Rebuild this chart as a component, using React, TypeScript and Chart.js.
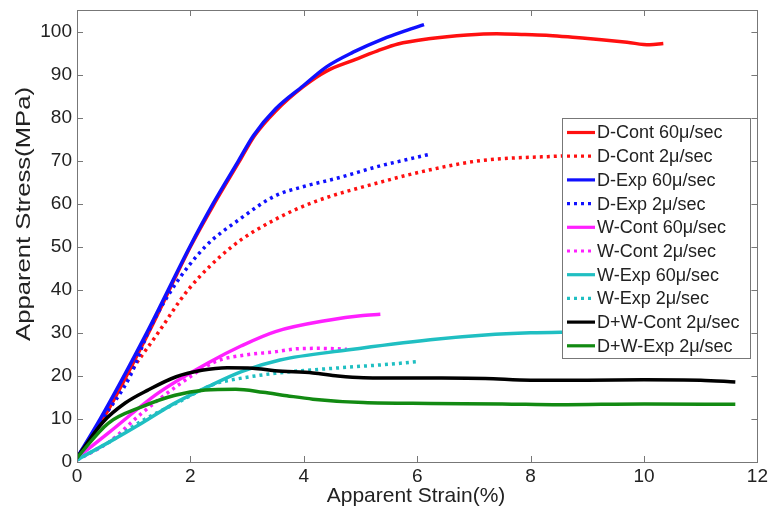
import React, { useEffect, useRef } from "react";
import { Chart, registerables } from "chart.js";

Chart.register(...registerables);

// ---- tick values ----
const xTickValues = [0, 2, 4, 6, 8, 10, 12];
const yTickValues = [0, 10, 20, 30, 40, 50, 60, 70, 80, 90, 100];

// ---- series (strain %, stress MPa) ----
const dContFastX = [0, 0.46, 1.26, 2.0, 2.42, 2.87, 3.13, 3.5, 3.99, 4.4, 4.87, 5.3, 5.66, 6.2, 6.88, 7.4, 7.9, 8.33, 8.8, 9.25, 9.7, 10.1, 10.34];
const dContFastY = [1, 10, 30, 50, 60, 70, 75.8, 81.5, 87.2, 90.8, 93.3, 95.5, 97.1, 98.3, 99.2, 99.5, 99.3, 99.1, 98.6, 98.1, 97.5, 96.9, 97.2];

const dContSlowX = [0, 0.45, 0.9, 1.43, 1.96, 2.73, 3.49, 4.2, 5.35, 6.2, 7.11, 8.55, 9.5];
const dContSlowY = [1, 10, 20, 30, 40, 50, 56.3, 60.5, 65, 67.8, 70, 71.1, 71.8];

const dExpFastX = [0, 0.41, 1.23, 1.99, 2.4, 2.85, 3.11, 3.5, 3.99, 4.4, 4.87, 5.4, 5.8, 6.12];
const dExpFastY = [1, 10, 30, 50, 60, 70, 75.8, 82, 87.4, 91.8, 95.2, 98.3, 100.2, 101.6];

const dExpSlowX = [0, 0.45, 0.94, 1.25, 1.67, 2.26, 2.88, 3.49, 4.0, 4.58, 5.35, 5.8, 6.19];
const dExpSlowY = [1, 10, 20, 30, 40, 50, 56.5, 61.8, 64, 65.9, 68.8, 70.2, 71.4];

const wContFastX = [0, 0.55, 1.43, 2.31, 2.9, 3.5, 4.46, 5.0, 5.35];
const wContFastY = [1, 6.7, 16, 23, 27, 30.3, 33, 34, 34.3];

const wContSlowX = [0, 0.55, 1.14, 1.8, 2.44, 2.99, 3.49, 3.88, 4.3, 4.76];
const wContSlowY = [0.5, 4.5, 11.3, 18, 23.3, 24.9, 25.6, 26.3, 26.4, 26.2];

const wExpFastX = [0, 0.55, 1.14, 1.7, 2.31, 2.9, 3.58, 4.76, 6.23, 7.2, 8.0, 8.8];
const wExpFastY = [0.5, 4.5, 9, 13.5, 17.5, 21, 23.7, 26, 28.4, 29.5, 30, 30.2];

const wExpSlowX = [0, 0.55, 1.14, 1.8, 2.44, 2.7, 3.49, 4.76, 5.5, 5.99];
const wExpSlowY = [0.5, 4.5, 9.5, 14, 18.2, 19, 20.6, 22, 22.7, 23.3];

const dwContX = [0, 0.46, 0.85, 1.25, 1.75, 2.2, 2.65, 3.1, 3.49, 4.16, 4.6, 5.05, 6.23, 7.2, 8.0, 9.0, 10.0, 11.0, 11.61];
const dwContY = [1, 9.3, 13.7, 16.7, 19.8, 21.3, 21.9, 21.8, 21.2, 20.7, 20.0, 19.6, 19.5, 19.4, 19.0, 19.0, 19.1, 19.0, 18.6];

const dwExpX = [0, 0.55, 1.14, 1.73, 2.26, 2.8, 3.28, 3.7, 4.16, 5.05, 6.23, 7.5, 8.5, 10, 11.61];
const dwExpY = [1, 9, 12.8, 15.5, 16.7, 16.9, 16.2, 15.4, 14.6, 13.8, 13.6, 13.5, 13.3, 13.5, 13.4];

const seriesLabels = [
  "D-Cont 60\u03bc/sec",
  "D-Cont 2\u03bc/sec",
  "D-Exp 60\u03bc/sec",
  "D-Exp 2\u03bc/sec",
  "W-Cont 60\u03bc/sec",
  "W-Cont 2\u03bc/sec",
  "W-Exp 60\u03bc/sec",
  "W-Exp 2\u03bc/sec",
  "D+W-Cont 2\u03bc/sec",
  "D+W-Exp 2\u03bc/sec",
];
const seriesX = [dContFastX, dContSlowX, dExpFastX, dExpSlowX, wContFastX, wContSlowX, wExpFastX, wExpSlowX, dwContX, dwExpX];
const seriesY = [dContFastY, dContSlowY, dExpFastY, dExpSlowY, wContFastY, wContSlowY, wExpFastY, wExpSlowY, dwContY, dwExpY];
const seriesColors = ["#ff1010", "#ff1010", "#1010ff", "#1010ff", "#ff20ff", "#ff20ff", "#20bfc2", "#20bfc2", "#000000", "#128a12"];
const seriesDotted = [false, true, false, true, false, true, false, true, false, false];

const xTitle = "Apparent Strain(%)";
const yTitle = "Apparent Stress(MPa)";

const FONT = "'Liberation Sans', Arial, sans-serif";
const DASH = [3, 4];

const decorPlugin = {
  id: "decor",
  afterDatasetsDraw(chart: any) {
    const { ctx, chartArea, scales } = chart;
    const { left, right, top, bottom } = chartArea;
    const xs = scales.x;
    const ys = scales.y;
    ctx.save();
    // frame
    ctx.strokeStyle = "#777777";
    ctx.lineWidth = 1;
    ctx.setLineDash([]);
    ctx.strokeRect(Math.round(left) + 0.5, Math.round(top) + 0.5, Math.round(right - left), Math.round(bottom - top));
    // inward ticks
    ctx.beginPath();
    const tl = 6;
    xTickValues.forEach((v) => {
      const px = Math.round(xs.getPixelForValue(v)) + 0.5;
      ctx.moveTo(px, bottom);
      ctx.lineTo(px, bottom - tl);
      ctx.moveTo(px, top);
      ctx.lineTo(px, top + tl);
    });
    yTickValues.forEach((v) => {
      const py = Math.round(ys.getPixelForValue(v)) + 0.5;
      ctx.moveTo(left, py);
      ctx.lineTo(left + tl, py);
      ctx.moveTo(right, py);
      ctx.lineTo(right - tl, py);
    });
    ctx.stroke();

    // legend
    const lx = 562;
    const ly = 118;
    const lw = 188;
    const lh = 240;
    ctx.fillStyle = "#ffffff";
    ctx.fillRect(lx, ly, lw, lh);
    ctx.strokeStyle = "#777777";
    ctx.strokeRect(lx + 0.5, ly + 0.5, lw, lh);
    ctx.font = `18px ${FONT}`;
    ctx.textBaseline = "middle";
    ctx.textAlign = "left";
    seriesLabels.forEach((label, i) => {
      const cy = ly + 14.5 + i * 23.7;
      ctx.strokeStyle = seriesColors[i];
      ctx.lineWidth = 3.2;
      ctx.setLineDash(seriesDotted[i] ? DASH : []);
      ctx.beginPath();
      ctx.moveTo(lx + 5, cy);
      ctx.lineTo(lx + 33, cy);
      ctx.stroke();
      ctx.setLineDash([]);
      ctx.fillStyle = "#222222";
      ctx.fillText(label, lx + 35, cy + 1);
    });

    // axis titles
    ctx.fillStyle = "#222222";
    ctx.font = `21px ${FONT}`;
    ctx.textAlign = "center";
    ctx.textBaseline = "middle";
    ctx.fillText(xTitle, 416, 496);
    ctx.save();
    ctx.translate(24, 214);
    ctx.rotate(-Math.PI / 2);
    ctx.font = `21px ${FONT}`;
    const w = ctx.measureText(yTitle).width;
    ctx.scale(254 / w, 1);
    ctx.fillText(yTitle, 0, 0);
    ctx.restore();
    ctx.restore();
  },
};

export default function App() {
  const canvasRef = useRef<HTMLCanvasElement | null>(null);

  useEffect(() => {
    if (!canvasRef.current) return;
    const datasets = seriesLabels.map((label, i) => ({
      label,
      data: seriesX[i].map((x, j) => ({ x, y: seriesY[i][j] })),
      borderColor: seriesColors[i],
      backgroundColor: seriesColors[i],
      borderWidth: 3.5,
      borderDash: seriesDotted[i] ? DASH : [],
      borderCapStyle: "butt" as const,
      pointRadius: 0,
      fill: false,
      cubicInterpolationMode: "monotone" as const,
      order: -i,
    }));

    const chart = new Chart(canvasRef.current, {
      type: "line",
      data: { datasets },
      options: {
        animation: false,
        responsive: true,
        maintainAspectRatio: false,
        layout: { padding: { top: 10, right: 12, left: 0, bottom: 0 } },
        plugins: {
          legend: { display: false },
          tooltip: { enabled: false },
        },
        scales: {
          x: {
            type: "linear",
            min: 0,
            max: 12,
            grid: { display: false, drawTicks: false },
            border: { display: false },
            ticks: {
              stepSize: 2,
              autoSkip: false,
              includeBounds: false,
              padding: 3,
              color: "#222222",
              font: { family: FONT, size: 19 },
              maxRotation: 0,
            },
            afterFit: (s: any) => {
              s.height = 55;
            },
          },
          y: {
            type: "linear",
            min: 0,
            max: 105,
            grid: { display: false, drawTicks: false },
            border: { display: false },
            ticks: {
              stepSize: 10,
              autoSkip: false,
              includeBounds: false,
              padding: 5,
              color: "#222222",
              font: { family: FONT, size: 19 },
            },
            afterFit: (s: any) => {
              s.width = 77;
              s.paddingTop = 0;
              s.paddingBottom = 0;
            },
          },
        },
      },
      plugins: [decorPlugin],
    });
    return () => chart.destroy();
  }, []);

  return (
    <div style={{ position: "fixed", left: 0, top: 0, width: 771, height: 517, background: "#ffffff" }}>
      <canvas ref={canvasRef} />
    </div>
  );
}
